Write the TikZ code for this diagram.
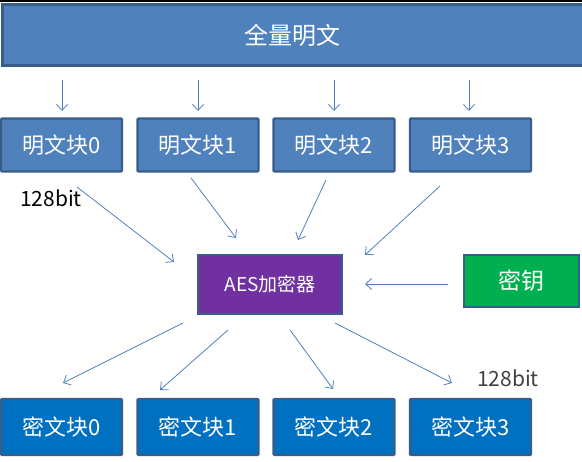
\documentclass[tikz,border=0pt]{standalone}
\usepackage{fontspec}
\setmainfont{Noto Sans CJK SC}
\usetikzlibrary{arrows.meta}
\definecolor{plainblue}{HTML}{4F81BD}
\definecolor{edgeblue}{HTML}{385D8A}
\definecolor{cipherblue}{HTML}{0070C0}
\definecolor{aespurple}{HTML}{7030A0}
\definecolor{keygreen}{HTML}{00B050}
\definecolor{labelgray}{HTML}{404040}
\tikzset{
  blockbox/.style={draw=edgeblue, line width=2.2pt, rounded corners=1pt, text=white, font=\fontsize{22}{24}\selectfont, inner sep=0pt, minimum width=121pt, minimum height=53pt},
  plainbox/.style={blockbox, fill=plainblue},
  cipherbox/.style={blockbox, fill=cipherblue},
  flow/.style={draw=plainblue, line width=0.8pt, -{Straight Barb[length=6pt,width=11pt,line width=0.8pt]}},
  bitlabel/.style={font=\fontsize{21}{23}\selectfont, inner sep=0pt}
}
\begin{document}
\begin{tikzpicture}[x=1pt,y=-1pt]
\useasboundingbox (0,0) rectangle (582,462);
\clip (0,0) rectangle (582,462);
\fill[black] (0,0) rectangle (582,2);
% top bar
\node[draw=edgeblue, fill=plainblue, line width=2.2pt, minimum width=600pt, minimum height=61pt, inner sep=0pt, anchor=west, text=white] (all) at (1.5,35) {};
\node[text=white, font=\fontsize{24}{26}\selectfont, inner sep=0pt] (alltext) at (292,35) {全量明文};
% plaintext blocks
\node[plainbox] (p0) at (61.5,145) {明文块0};
\node[plainbox] (p1) at (198,145) {明文块1};
\node[plainbox] (p2) at (334,145) {明文块2};
\node[plainbox] (p3) at (470.5,145) {明文块3};
% cipher blocks
\node[cipherbox, minimum height=56pt] (c0) at (61.5,427) {密文块0};
\node[cipherbox, minimum height=56pt] (c1) at (198,427) {密文块1};
\node[cipherbox, minimum height=56pt] (c2) at (334,427) {密文块2};
\node[cipherbox, minimum height=56pt] (c3) at (470.5,427) {密文块3};
% AES and key
\node[draw=edgeblue, fill=aespurple, line width=2.2pt, text=white, font=\fontsize{19}{21}\selectfont, inner sep=0pt, minimum width=144pt, minimum height=59pt] (aes) at (270,284.5) {AES加密器};
\node[draw=edgeblue, fill=keygreen, line width=2.2pt, text=white, font=\fontsize{23}{25}\selectfont, inner sep=0pt, minimum width=115pt, minimum height=52pt] (key) at (521.5,281) {密钥};
% labels
\node[bitlabel, text=black] (bitin) at (51,198) {128bit};
\node[bitlabel, text=labelgray] (bitout) at (508,378) {128bit};
% arrow coordinates
\coordinate (d0s) at (62,80); \coordinate (d0e) at (62,111);
\coordinate (d1s) at (198,80); \coordinate (d1e) at (198,111);
\coordinate (d2s) at (334,80); \coordinate (d2e) at (334,111);
\coordinate (d3s) at (469,80); \coordinate (d3e) at (469,111);
\coordinate (i0s) at (77,187); \coordinate (i0e) at (174,262);
\coordinate (i1s) at (191,178); \coordinate (i1e) at (236,238);
\coordinate (i2s) at (326,180); \coordinate (i2e) at (298,240);
\coordinate (i3s) at (440,186); \coordinate (i3e) at (365,255);
\coordinate (ks) at (448,284); \coordinate (ke) at (365,284);
\coordinate (o0s) at (183,323); \coordinate (o0e) at (63,383);
\coordinate (o1s) at (228,330); \coordinate (o1e) at (160,390);
\coordinate (o2s) at (290,330); \coordinate (o2e) at (333,389);
\coordinate (o3s) at (335,323); \coordinate (o3e) at (452,383);
\foreach \a in {d0,d1,d2,d3,i0,i1,i2,i3,k,o0,o1,o2,o3}
  \draw[flow] (\a s) -- (\a e);
\end{tikzpicture}
\end{document}
